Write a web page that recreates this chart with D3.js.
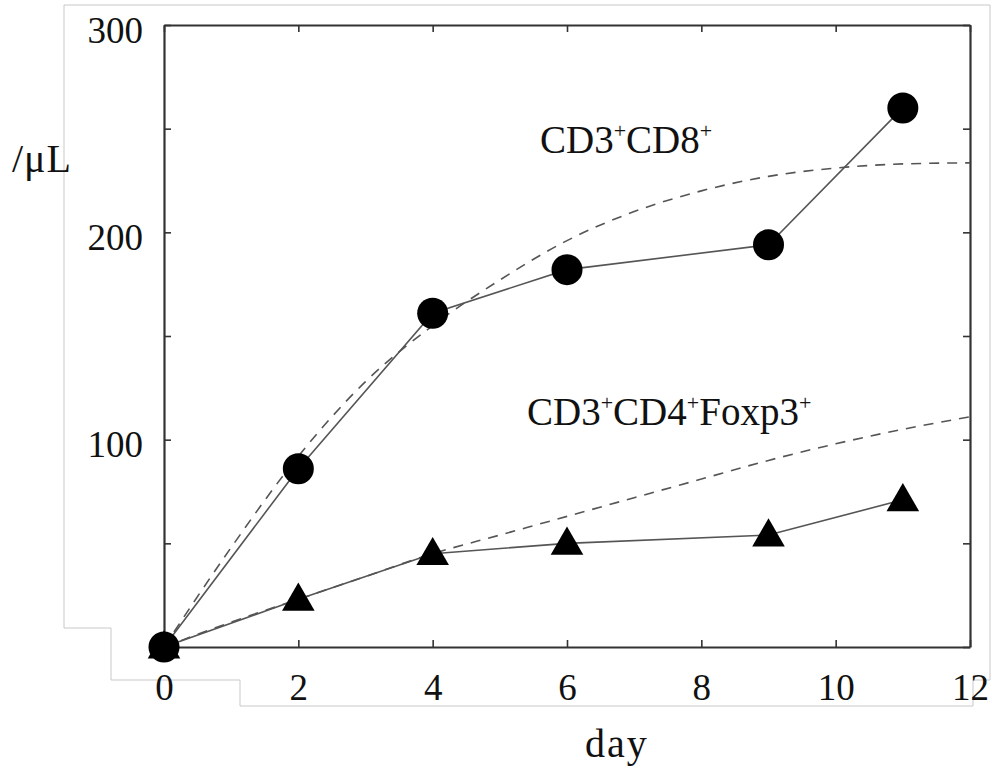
<!DOCTYPE html>
<html>
<head>
<meta charset="utf-8">
<script src="https://cdn.jsdelivr.net/npm/d3@7"></script>
<style>
  body { margin: 0; background: #fff; }
  svg text { font-family: "Liberation Serif", "Times New Roman", serif; fill: #111; }
</style>
</head>
<body>
<div id="chart"></div>
<script>
// measured points
var days = [0, 2, 4, 6, 9, 11];
var cd8 = [0, 86, 161, 182, 194, 260];
var treg = [0, 23, 45, 50, 54, 71];

// fitted (dashed) curves
var fitDays = [0, 1, 2, 3, 4, 5, 6, 7, 8, 9, 10, 11, 12];
var cd8Fit = [0, 48, 92, 128, 155, 177, 196, 210, 220, 227, 231, 233, 233.5];
var tregFit = [0, 12, 23, 34, 45, 54, 63, 72, 81, 90, 98, 105, 111];

var xTicks = [0, 2, 4, 6, 8, 10, 12];
var yTicks = [0, 50, 100, 150, 200, 250, 300];
var yLabels = [100, 200, 300];

var width = 992, height = 776;
var plotL = 164, plotR = 970, plotT = 25, plotB = 647;

var svg = d3.select('#chart')
  .append('svg')
  .attr('width', width)
  .attr('height', height);

// light grey outline of the scanned figure
svg.append('path')
  .attr('d', 'M64,5H990V680H973V706H240V680H111V628H64Z')
  .attr('fill', 'none')
  .attr('stroke', '#c8c8c8')
  .attr('stroke-width', 1);

var x = d3.scaleLinear().domain([0, 12]).range([plotL, plotR]);
var y = d3.scaleLinear().domain([0, 300]).range([plotB, plotT]);

//axes, ticks pointing inward
var gx = svg.append('g')
  .attr('transform', 'translate(0,' + plotB + ')')
  .call(d3.axisBottom(x).tickValues(xTicks).tickSize(-7).tickSizeOuter(0).tickPadding(27));
var gy = svg.append('g')
  .attr('transform', 'translate(' + plotL + ',0)')
  .call(d3.axisLeft(y).tickValues(yTicks).tickSize(-7).tickSizeOuter(0).tickPadding(21)
    .tickFormat(function(d){ return yLabels.indexOf(d) >= 0 ? d : ''; }));
var gt = svg.append('g')
  .attr('transform', 'translate(0,' + plotT + ')')
  .call(d3.axisTop(x).tickValues(xTicks).tickSize(-7).tickSizeOuter(0).tickFormat(''));
var gr = svg.append('g')
  .attr('transform', 'translate(' + plotR + ',0)')
  .call(d3.axisRight(y).tickValues(yTicks).tickSize(-7).tickSizeOuter(0).tickFormat(''));

[gx, gy, gt, gr].forEach(function(g){
  g.select('.domain').attr('stroke', '#333').attr('stroke-width', 2.2);
  g.selectAll('.tick line').attr('stroke', '#333').attr('stroke-width', 1.6);
  g.selectAll('.tick text')
    .attr('font-family', '"Liberation Serif", serif')
    .attr('font-size', 37)
    .attr('fill', '#111');
});
// drop empty labels
[gy, gt, gr].forEach(function(g){
  g.selectAll('.tick text').filter(function(){ return this.textContent === ''; }).remove();
});
gy.selectAll('.tick text').attr('dy', '17px');

//lines
var fitLine = d3.line()
  .x(function(d){ return x(d[0]); })
  .y(function(d){ return y(d[1]); })
  .curve(d3.curveMonotoneX);
var dataLine = d3.line()
  .x(function(d){ return x(d[0]); })
  .y(function(d){ return y(d[1]); });

[cd8Fit, tregFit].forEach(function(s){
  svg.append('path')
    .attr('d', fitLine(fitDays.map(function(d, i){ return [d, s[i]]; })))
    .attr('fill', 'none')
    .attr('stroke', '#555')
    .attr('stroke-width', 1.6)
    .attr('stroke-dasharray', '10,8');
});

[cd8, treg].forEach(function(s){
  svg.append('path')
    .attr('d', dataLine(days.map(function(d, i){ return [d, s[i]]; })))
    .attr('fill', 'none')
    .attr('stroke', '#555')
    .attr('stroke-width', 1.6);
});

//markers
var tri = d3.symbol().type(d3.symbolTriangle).size(460);
svg.selectAll('.tri')
  .data(days.map(function(d, i){ return [d, treg[i]]; }))
  .enter()
  .append('path')
  .attr('class', 'tri')
  .attr('d', tri)
  .attr('transform', function(d){ return 'translate(' + x(d[0]) + ',' + (y(d[1]) + 2) + ')'; })
  .attr('fill', '#000');

svg.selectAll('.dot')
  .data(days.map(function(d, i){ return [d, cd8[i]]; }))
  .enter()
  .append('circle')
  .attr('class', 'dot')
  .attr('cx', function(d){ return x(d[0]); })
  .attr('cy', function(d){ return y(d[1]); })
  .attr('r', 15.5)
  .attr('fill', '#000');

//series labels with superscript +
function label(parts, px, py){
  var t = svg.append('text')
    .attr('x', px)
    .attr('y', py)
    .attr('font-size', 39);
  parts.forEach(function(p, i){
    t.append('tspan').text(p).attr('font-size', 39).attr('dy', i === 0 ? 0 : 15);
    t.append('tspan').text('+').attr('font-size', 22).attr('dy', -15);
  });
}
label(['CD3', 'CD8'], 540, 153);
label(['CD3', 'CD4', 'Foxp3'], 527, 425);

svg.append('text')
  .attr('x', 12)
  .attr('y', 172)
  .attr('font-size', 40)
  .attr('letter-spacing', 1)
  .text('/\u03bcL');

svg.append('text')
  .attr('x', 617)
  .attr('y', 757)
  .attr('text-anchor', 'middle')
  .attr('font-size', 40)
  .attr('letter-spacing', 2)
  .text('day');
</script>
</body>
</html>
